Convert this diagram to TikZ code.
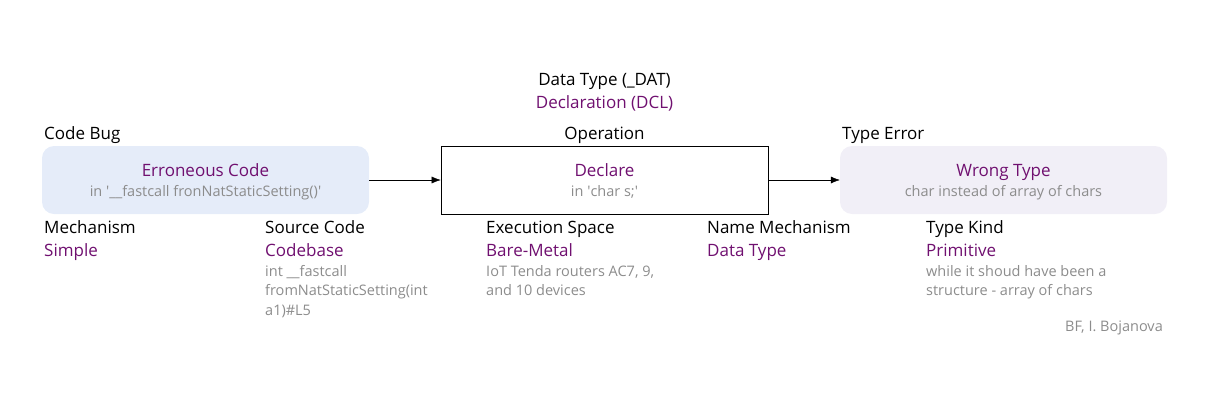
\documentclass[tikz,border=0pt]{standalone}
\usepackage{fontspec}
\setmainfont{Open Sans}
\usetikzlibrary{positioning,arrows.meta}

\definecolor{lila}{RGB}{112,16,112}
\definecolor{grau}{RGB}{140,140,140}
\definecolor{hellblau}{RGB}{229,236,249}
\definecolor{flieder}{RGB}{241,239,247}

\tikzset{
	kasten/.style={minimum width=327pt, minimum height=68pt, inner sep=0pt},
	titel/.style={font=\fontsize{17}{20}\selectfont, inner sep=0pt},
	wert/.style={titel, text=lila},
	notiz/.style={font=\fontsize{14.5}{19.5}\selectfont, text=grau, inner sep=0pt},
	pfeil/.style={-{Latex[length=9pt,width=7pt]}},
}

\begin{document}
\begin{tikzpicture}[x=1pt, y=-1pt]

		%Rahmen
		\useasboundingbox (0,0) rectangle (1207,400);

		%Kaesten
		\node [kasten, fill=hellblau, rounded corners=12pt] (bug) at (205.5,180) {};
		\node [kasten, draw=black, semithick] (op) at (604.5,180) {};
		\node [kasten, fill=flieder, rounded corners=12pt] (err) at (1003.5,180) {};

		%Pfeile
		\draw [pfeil] (bug) -- (op);
		\draw [pfeil] (op) -- (err);

		%Texte in den Kaesten
		\node [wert, anchor=base] (bugT) at (205.5,176) {Erroneous Code};
		\node [notiz, anchor=base] (bugN) at (205.5,196) {in \textquotesingle\_\_fastcall fronNatStaticSetting()\textquotesingle};
		\node [wert, anchor=base] (opT) at (604.5,176) {Declare};
		\node [notiz, anchor=base] (opN) at (604.5,196) {in \textquotesingle char s;\textquotesingle};
		\node [wert, anchor=base] (errT) at (1003.5,176) {Wrong Type};
		\node [notiz, anchor=base] (errN) at (1003.5,196) {char instead of array of chars};

		%Ueberschriften
		\node [titel, anchor=base] (dat) at (604.5,85) {Data Type (\_DAT)};
		\node [wert, anchor=base] (dcl) at (604.5,108) {Declaration (DCL)};
		\node [titel, anchor=base west] (bugK) at (44,139) {Code Bug};
		\node [titel, anchor=base] (opK) at (604.5,139) {Operation};
		\node [titel, anchor=base west] (errK) at (842,139) {Type Error};

		%Attribute unten
		\node [titel, anchor=base west] (mech) at (44,233) {Mechanism};
		\node [wert, anchor=base west] (mechW) at (44,256) {Simple};
		\node [titel, anchor=base west] (src) at (265,233) {Source Code};
		\node [wert, anchor=base west] (srcW) at (265,256) {Codebase};
		\node [notiz, anchor=base west] (srcN) at (265,276)
			{\vtop{\hbox{int \_\_fastcall}\hbox{fromNatStaticSetting(int}\hbox{a1)\#L5}}};
		\node [titel, anchor=base west] (exe) at (486,233) {Execution Space};
		\node [wert, anchor=base west] (exeW) at (486,256) {Bare-Metal};
		\node [notiz, anchor=base west] (exeN) at (486,276)
			{\vtop{\hbox{IoT Tenda routers AC7, 9,}\hbox{and 10 devices}}};
		\node [titel, anchor=base west] (nam) at (707,233) {Name Mechanism};
		\node [wert, anchor=base west] (namW) at (707,256) {Data Type};
		\node [titel, anchor=base west] (kind) at (926,233) {Type Kind};
		\node [wert, anchor=base west] (kindW) at (926,256) {Primitive};
		\node [notiz, anchor=base west] (kindN) at (926,276)
			{\vtop{\hbox{while it shoud have been a}\hbox{structure - array of chars}}};

		%Autor
		\node [notiz, anchor=base east] (autor) at (1163,331) {BF, I. Bojanova};

	\end{tikzpicture}
\end{document}
